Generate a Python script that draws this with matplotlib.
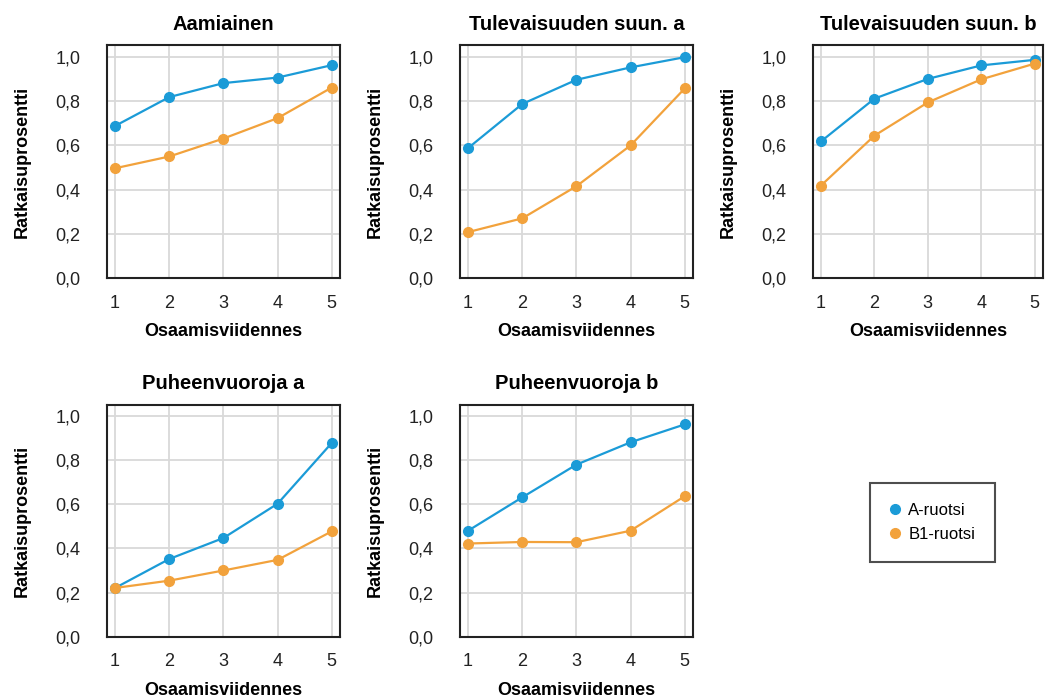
import matplotlib.pyplot as plt
from matplotlib.lines import Line2D
from matplotlib import font_manager

# Data
x = [1, 2, 3, 4, 5]
titles = ['Aamiainen', 'Tulevaisuuden suun. a', 'Tulevaisuuden suun. b',
          'Puheenvuoroja a', 'Puheenvuoroja b']
a_ruotsi = [
    [0.687, 0.817, 0.880, 0.905, 0.961],
    [0.587, 0.786, 0.895, 0.951, 0.997],
    [0.617, 0.810, 0.899, 0.960, 0.985],
    [0.221, 0.352, 0.447, 0.602, 0.877],
    [0.480, 0.631, 0.779, 0.880, 0.961],
]
b1_ruotsi = [
    [0.496, 0.549, 0.630, 0.722, 0.860],
    [0.208, 0.270, 0.415, 0.599, 0.856],
    [0.418, 0.643, 0.793, 0.897, 0.968],
    [0.221, 0.254, 0.300, 0.348, 0.477],
    [0.422, 0.429, 0.428, 0.480, 0.636],
]
series_names = ['A-ruotsi', 'B1-ruotsi']
y_ticks = [0.0, 0.2, 0.4, 0.6, 0.8, 1.0]
y_tick_labels = ['0,0', '0,2', '0,4', '0,6', '0,8', '1,0']

blue = '#1b9bd7'
orange = '#f2a23c'

names = {f.name for f in font_manager.fontManager.ttflist}
fam = 'Liberation Sans Narrow' if 'Liberation Sans Narrow' in names else 'Liberation Sans'
plt.rcParams['font.family'] = [fam, 'DejaVu Sans']

fig = plt.figure(figsize=(10.49, 6.99), dpi=100)

# axes boxes in figure fractions (left, bottom, width, height)
boxes = [
    (0.102, 0.602, 0.222, 0.333),
    (0.4385, 0.602, 0.222, 0.333),
    (0.775, 0.602, 0.219, 0.333),
    (0.102, 0.089, 0.222, 0.332),
    (0.4385, 0.089, 0.222, 0.332),
]

for i, box in enumerate(boxes):
    ax = fig.add_axes(box)
    ax.plot(x, a_ruotsi[i], color=blue, marker='o', markersize=7, linewidth=1.6)
    ax.plot(x, b1_ruotsi[i], color=orange, marker='o', markersize=7, linewidth=1.6)
    ax.set_xlim(0.85, 5.15)
    ax.set_ylim(0, 1.05)
    ax.set_xticks(x)
    ax.set_yticks(y_ticks)
    ax.set_yticklabels(y_tick_labels)
    ax.tick_params(length=0, labelsize=13, colors='#222222')
    ax.tick_params(axis='x', pad=12)
    ax.tick_params(axis='y', pad=19)
    ax.grid(True, color='#d9d9d9', linewidth=1.3)
    ax.set_axisbelow(True)
    for s in ax.spines.values():
        s.set_linewidth(1.5)
        s.set_color('#222222')
    ax.set_title(titles[i], fontsize=14.5, fontweight='bold', pad=11)
    ax.set_xlabel('Osaamisviidennes', fontsize=13, fontweight='bold', labelpad=8)
    ax.set_ylabel('Ratkaisuprosentti', fontsize=13, fontweight='bold', labelpad=18)

handles = [Line2D([], [], color=blue, marker='o', linestyle='none', markersize=7),
           Line2D([], [], color=orange, marker='o', linestyle='none', markersize=7)]
leg = fig.legend(handles, series_names, loc='upper left',
                 bbox_to_anchor=(870 / 1049, 1 - 483 / 699), borderaxespad=0,
                 fontsize=12, frameon=True, fancybox=False,
                 edgecolor='#222222', borderpad=1.2, handletextpad=0.5,
                 labelspacing=0.55, handlelength=0.6)
leg.get_frame().set_linewidth(1.5)

plt.savefig('out.png', dpi=100)
